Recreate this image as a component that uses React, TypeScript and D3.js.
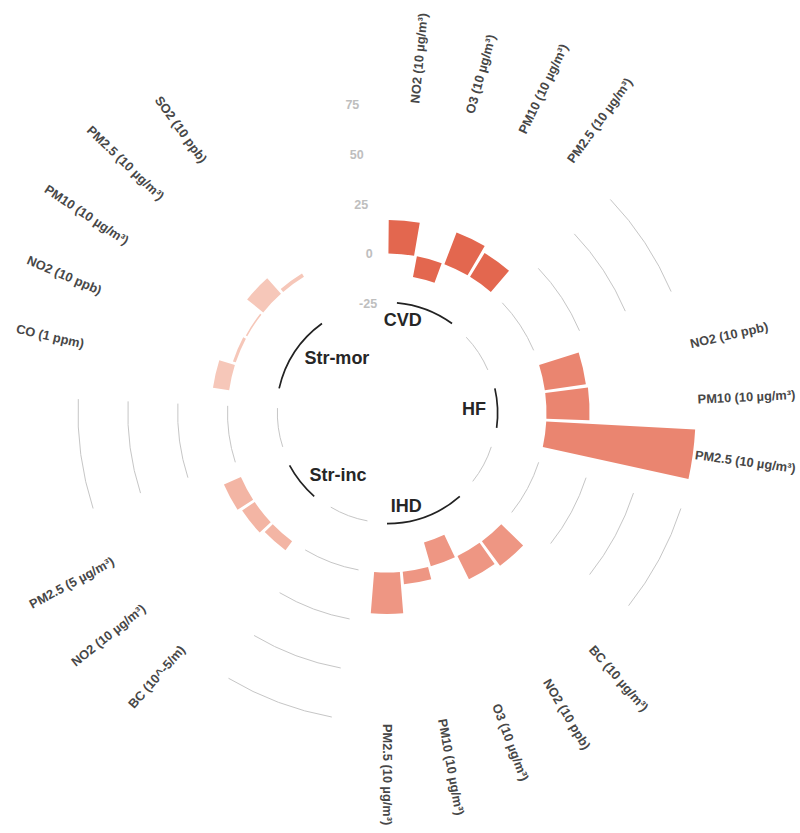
import React from "react";
import * as d3 from "d3";

const groupNames = ["CVD", "HF", "IHD", "Str-inc", "Str-mor"];
const groupColors = ["#E3674F", "#EA8570", "#EE9683", "#F3B5A4", "#F6C7B9"];
const groupLabelAnchors = ["end", "end", "end", "start", "start"];

const barGroups = [
  "CVD", "CVD", "CVD", "CVD",
  "HF", "HF", "HF",
  "IHD", "IHD", "IHD", "IHD", "IHD",
  "Str-inc", "Str-inc", "Str-inc",
  "Str-mor", "Str-mor", "Str-mor", "Str-mor", "Str-mor",
];
const barLabels = [
  "NO2 (10 µg/m³)", "O3 (10 µg/m³)", "PM10 (10 µg/m³)", "PM2.5 (10 µg/m³)",
  "NO2 (10 ppb)", "PM10 (10 µg/m³)", "PM2.5 (10 µg/m³)",
  "BC (10 µg/m³)", "NO2 (10 ppb)", "O3 (10 µg/m³)", "PM10 (10 µg/m³)", "PM2.5 (10 µg/m³)",
  "BC (10^-5/m)", "NO2 (10 µg/m³)", "PM2.5 (5 µg/m³)",
  "CO (1 ppm)", "NO2 (10 ppb)", "PM10 (10 µg/m³)", "PM2.5 (10 µg/m³)", "SO2 (10 ppb)",
];
const barValues = [
  16.8, -10.5, 17.0, 14.0,
  20.8, 21.6, 74.8,
  15.3, 13.0, -12.5, 6.3, 20.8,
  5.6, 7.6, 9.3,
  8.2, 1.5, 0.8, 10.4, 1.9,
];
const radialTicks = [-25, 0, 25, 50, 75];
const gapSlots = 3;

export default function App() {
  const W = 800;
  const H = 833;
  const cx = 387;
  const cy = 413;

  // slot layout: bars per group followed by empty slots
  const slots: { i: number; slot: number; g: number }[] = [];
  const groupRanges: { first: number; last: number }[] = [];
  let idx = 0;
  groupNames.forEach((g, gi) => {
    const first = idx;
    barGroups.forEach((bg, i) => {
      if (bg === g) slots.push({ i, slot: idx++, g: gi });
    });
    groupRanges.push({ first, last: idx - 1 });
    idx += gapSlots;
  });
  const nSlots = idx;

  const x = d3.scaleLinear().domain([0, nSlots]).range([0, 2 * Math.PI]);
  const y = d3.scaleLinear().domain([-80, 75]).range([0, 309]);

  const arcGen = d3.arc<any>();
  const arcLine = (r: number, a0: number, a1: number) => {
    const p = d3.path();
    p.arc(cx, cy, r, a0 - Math.PI / 2, a1 - Math.PI / 2, false);
    return p.toString();
  };
  const polar = (a: number, r: number) => [cx + r * Math.sin(a), cy - r * Math.cos(a)];

  const font = "'Liberation Sans', Arial, Helvetica, sans-serif";

  return (
    <svg
      width={W}
      height={H}
      style={{ position: "absolute", left: 0, top: 0, background: "#fff" }}
      fontFamily={font}
    >
      {/* grid arcs in gaps (not before first group) */}
      <g fill="none" stroke="#C6C6C6" strokeWidth={1}>
        {groupRanges.slice(1).map((gr, k) =>
          radialTicks.map((t) => (
            <path
              key={`grid-${k}-${t}`}
              d={arcLine(y(t), x(gr.first - gapSlots + 0.5), x(gr.first - 0.5))}
            />
          ))
        )}
      </g>

      {/* y-axis tick labels */}
      <g>
        {radialTicks.map((t) => {
          const [px, py] = polar(x(nSlots - 0.5), y(t));
          return (
            <text
              key={`yt-${t}`}
              x={px}
              y={py}
              textAnchor="end"
              dominantBaseline="central"
              fontSize={12.5}
              fontWeight="bold"
              fill="#BEBEBE"
            >
              {t}
            </text>
          );
        })}
      </g>

      {/* bars */}
      <g>
        {slots.map((s) => {
          const v = barValues[s.i];
          const d = arcGen({
            innerRadius: y(Math.min(0, v)),
            outerRadius: y(Math.max(0, v)),
            startAngle: x(s.slot + 0.05),
            endAngle: x(s.slot + 0.95),
          }) as string;
          return (
            <path
              key={`bar-${s.i}`}
              d={d}
              transform={`translate(${cx},${cy})`}
              fill={groupColors[s.g]}
            />
          );
        })}
      </g>

      {/* bar labels */}
      <g>
        {slots.map((s) => {
          const a = x(s.slot + 0.5);
          const deg = (a * 180) / Math.PI;
          const [px, py] = polar(a, 311);
          const right = deg <= 180 + 1e-6;
          const rot = right ? deg - 90 : deg - 270;
          return (
            <text
              key={`lab-${s.i}`}
              x={px}
              y={py}
              transform={`rotate(${rot},${px},${py})`}
              textAnchor={right ? "start" : "end"}
              dominantBaseline="central"
              fontSize={12.8}
              fontWeight="bold"
              fill="#474747"
            >
              {barLabels[s.i]}
            </text>
          );
        })}
      </g>

      {/* group base arcs and names */}
      <g>
        {groupRanges.map((gr, gi) => {
          const a0 = x(gr.first + 0.5);
          const a1 = x(gr.last + 0.5);
          const am = (a0 + a1) / 2;
          const [tx, ty] = polar(am, 99);
          return (
            <g key={`grp-${gi}`}>
              <path
                d={arcLine(y(-24.5), a0, a1)}
                fill="none"
                stroke="#222"
                strokeWidth={1.7}
              />
              <text
                x={tx}
                y={ty}
                textAnchor={groupLabelAnchors[gi]}
                dominantBaseline="central"
                fontSize={18}
                fontWeight="bold"
                fill="#262626"
              >
                {groupNames[gi]}
              </text>
            </g>
          );
        })}
      </g>
    </svg>
  );
}
